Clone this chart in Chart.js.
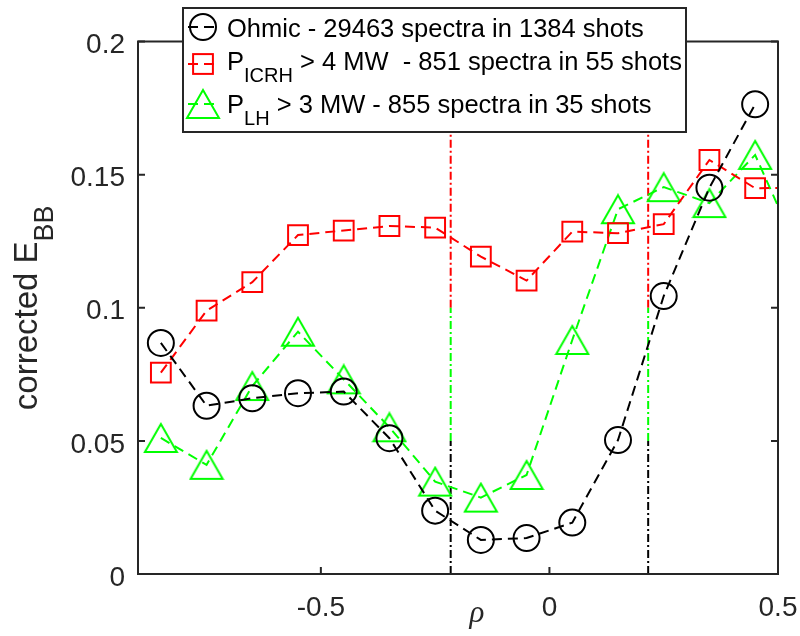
<!DOCTYPE html>
<html>
<head>
<meta charset="utf-8">
<script src="https://cdn.jsdelivr.net/npm/chart.js@4.4.0/dist/chart.umd.min.js"></script>
<style>
  html, body { margin: 0; padding: 0; background: #fff; }
  canvas { display: block; }
</style>
</head>
<body>
<canvas id="chart" width="800" height="636"></canvas>
<script>
// radial positions (bin centres) and the three profiles
const rho = [-0.85, -0.75, -0.65, -0.55, -0.45, -0.35, -0.25, -0.15, -0.05, 0.05, 0.15, 0.25, 0.35, 0.45, 0.55];
const ohmic = [0.0868, 0.0632, 0.0660, 0.0679, 0.0685, 0.0510, 0.0238, 0.0128, 0.0135, 0.0193, 0.0503, 0.1044, 0.1451, 0.1764];
const icrh = [0.0756, 0.0989, 0.1096, 0.1273, 0.1290, 0.1307, 0.1301, 0.1192, 0.1102, 0.1286, 0.1280, 0.1314, 0.1555, 0.1449, 0.1450];
const lh = [0.0511, 0.0410, 0.0706, 0.0910, 0.0731, 0.0551, 0.0347, 0.0287, 0.0372, 0.0879, 0.1370, 0.1453, 0.1393, 0.1574, 0.1190];

// legend text: main part, subscript, rest
const legendLabels = [
    ['Ohmic - 29463 spectra in 1384 shots', '', ''],
    ['P', 'ICRH', ' > 4 MW  - 851 spectra in 55 shots'],
    ['P', 'LH', ' > 3 MW - 855 spectra in 35 shots']
];

const xTicks = [-0.5, 0, 0.5];
const yTicks = [0, 0.05, 0.1, 0.15, 0.2];

// vertical separators and the levels where their colour changes
const sepRho = [-0.216, 0.216];
const sepLevels = [0, 0.05, 0.1, 0.2];

const AXIS = '#262626';
const FONT = '"Liberation Sans", Arial, sans-serif';

// triangle marker centred on its bounding box (like matlab '^')
function triangleMarker(color) {
    const c = document.createElement('canvas');
    c.width = 36; c.height = 32;
    const g = c.getContext('2d');
    g.strokeStyle = color;
    g.lineWidth = 2;
    g.beginPath();
    g.moveTo(18, 2);
    g.lineTo(2, 30);
    g.lineTo(34, 30);
    g.closePath();
    g.stroke();
    return c;
}
const greenTri = triangleMarker('#00ff00');

function pts(ys) {
    return ys.map((y, i) => ({ x: rho[i], y: y }));
}

const series = [
    { data: pts(ohmic), borderColor: '#000000', pointStyle: 'circle', pointRadius: 13 },
    { data: pts(icrh), borderColor: '#ff0000', pointStyle: 'rect', pointRadius: 14 },
    { data: pts(lh), borderColor: '#00ff00', pointStyle: greenTri, pointRadius: 16 }
].map(s => Object.assign(s, {
    showLine: true,
    borderWidth: 2,
    borderDash: [10, 6],
    pointBorderColor: s.borderColor,
    pointBorderWidth: 2,
    pointBackgroundColor: 'rgba(0,0,0,0)',
    backgroundColor: 'rgba(0,0,0,0)',
    clip: 0
}));

const sepColors = ['#000000', '#00ff00', '#ff0000'];
const separators = [];
sepRho.forEach(x => {
    for (let k = 0; k < sepLevels.length - 1; k++) {
        separators.push({
            data: [{ x: x, y: sepLevels[k] }, { x: x, y: sepLevels[k + 1] }],
            showLine: true,
            borderColor: sepColors[k],
            borderWidth: 2,
            borderDash: [8, 3, 2, 3],
            pointRadius: 0,
            clip: 0
        });
    }
});

function drawMarker(ctx, ds, x, y) {
    ctx.save();
    ctx.strokeStyle = ds.borderColor;
    ctx.lineWidth = 2;
    ctx.setLineDash([]);
    if (ds.pointStyle === 'circle') {
        ctx.beginPath();
        ctx.arc(x, y, ds.pointRadius, 0, Math.PI * 2);
        ctx.stroke();
    } else if (ds.pointStyle === 'rect') {
        const s = ds.pointRadius * Math.SQRT1_2;
        ctx.strokeRect(x - s, y - s, 2 * s, 2 * s);
    } else {
        const img = ds.pointStyle;
        ctx.drawImage(img, x - img.width / 2, y - img.height / 2);
    }
    ctx.restore();
}

const frame = {
    id: 'frame',
    afterDraw(chart) {
        const ctx = chart.ctx;
        const a = chart.chartArea;
        const xs = chart.scales.x, ys = chart.scales.y;
        ctx.save();
        // axes box + inward ticks
        ctx.strokeStyle = AXIS;
        ctx.lineWidth = 2;
        ctx.setLineDash([]);
        ctx.strokeRect(a.left, a.top, a.right - a.left, a.bottom - a.top);
        ctx.beginPath();
        xTicks.forEach(v => {
            const px = xs.getPixelForValue(v);
            ctx.moveTo(px, a.bottom); ctx.lineTo(px, a.bottom - 7);
            ctx.moveTo(px, a.top); ctx.lineTo(px, a.top + 7);
        });
        yTicks.forEach(v => {
            const py = ys.getPixelForValue(v);
            ctx.moveTo(a.left, py); ctx.lineTo(a.left + 7, py);
            ctx.moveTo(a.right, py); ctx.lineTo(a.right - 7, py);
        });
        ctx.stroke();

        // y title with subscript
        ctx.fillStyle = AXIS;
        ctx.translate(37, (a.top + a.bottom) / 2);
        ctx.rotate(-Math.PI / 2);
        ctx.textAlign = 'left';
        ctx.textBaseline = 'alphabetic';
        ctx.font = '33px ' + FONT;
        const w1 = ctx.measureText('corrected E').width;
        ctx.font = '27px ' + FONT;
        const w2 = ctx.measureText('BB').width;
        const x0 = -(w1 + w2) / 2;
        ctx.font = '33px ' + FONT;
        ctx.fillText('corrected E', x0, 0);
        ctx.font = '27px ' + FONT;
        ctx.fillText('BB', x0 + w1, 16);
        ctx.setTransform(1, 0, 0, 1, 0, 0);

        // x title
        ctx.font = 'italic 31px "Liberation Serif", serif';
        ctx.textAlign = 'center';
        ctx.fillText('\u03c1', 477, 622);

        // legend
        const lx = 183, ly = 8, lw = 503, lhgt = 124;
        ctx.fillStyle = '#ffffff';
        ctx.fillRect(lx, ly, lw, lhgt);
        ctx.strokeStyle = AXIS;
        ctx.lineWidth = 2;
        ctx.strokeRect(lx, ly, lw, lhgt);
        const baselines = [37, 70, 113];
        const iconY = [27, 64, 104];
        legendLabels.forEach((lab, i) => {
            const ds = chart.data.datasets[i];
            ctx.save();
            ctx.strokeStyle = ds.borderColor;
            ctx.lineWidth = 2;
            ctx.setLineDash(ds.borderDash);
            ctx.beginPath();
            ctx.moveTo(188, iconY[i]);
            ctx.lineTo(218, iconY[i]);
            ctx.stroke();
            ctx.restore();
            drawMarker(ctx, ds, 203, iconY[i]);

            ctx.fillStyle = '#000000';
            ctx.textAlign = 'left';
            ctx.textBaseline = 'alphabetic';
            let tx = 227;
            ctx.font = '25.5px ' + FONT;
            ctx.fillText(lab[0], tx, baselines[i]);
            tx += ctx.measureText(lab[0]).width;
            if (lab[1]) {
                ctx.font = '20px ' + FONT;
                ctx.fillText(lab[1], tx, baselines[i] + 12);
                tx += ctx.measureText(lab[1]).width;
            }
            if (lab[2]) {
                ctx.font = '25.5px ' + FONT;
                ctx.fillText(lab[2], tx, baselines[i]);
            }
        });
        ctx.restore();
    }
};

new Chart(document.getElementById('chart'), {
    type: 'scatter',
    data: { datasets: series.concat(separators) },
    options: {
        responsive: false,
        animation: false,
        devicePixelRatio: 1,
        events: [],
        layout: { padding: { left: 0, right: 22, top: 41.5, bottom: 0 } },
        plugins: { legend: { display: false }, tooltip: { enabled: false } },
        elements: { line: { tension: 0 } },
        scales: {
            x: {
                type: 'linear',
                min: -0.9,
                max: 0.5,
                grid: { display: false, drawTicks: false },
                border: { display: false },
                afterBuildTicks: s => { s.ticks = xTicks.map(v => ({ value: v })); },
                afterFit: s => { s.height = 62; s.paddingLeft = 0; s.paddingRight = 0; },
                ticks: {
                    padding: 17,
                    color: AXIS,
                    font: { family: FONT, size: 28 },
                    maxRotation: 0,
                    callback: v => String(v)
                }
            },
            y: {
                type: 'linear',
                min: 0,
                max: 0.2,
                grid: { display: false, drawTicks: false },
                border: { display: false },
                afterBuildTicks: s => { s.ticks = yTicks.map(v => ({ value: v })); },
                afterFit: s => { s.width = 138; s.paddingTop = 0; s.paddingBottom = 0; },
                ticks: {
                    padding: 13,
                    labelOffset: 4,
                    color: AXIS,
                    font: { family: FONT, size: 28 },
                    callback: v => String(v)
                }
            }
        }
    },
    plugins: [frame]
});
</script>
</body>
</html>
